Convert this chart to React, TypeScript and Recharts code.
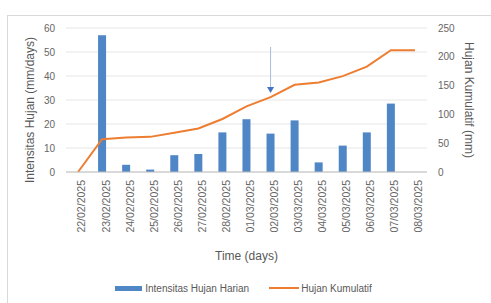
import React from 'react';
import {
  ComposedChart,
  Bar,
  Line,
  XAxis,
  YAxis,
  CartesianGrid,
  Legend,
  ReferenceLine,
  ReferenceDot,
} from 'recharts';

// tanggal pengamatan
const dates = [
  '22/02/2025', '23/02/2025', '24/02/2025', '25/02/2025', '26/02/2025',
  '27/02/2025', '28/02/2025', '01/03/2025', '02/03/2025', '03/03/2025',
  '04/03/2025', '05/03/2025', '06/03/2025', '07/03/2025', '08/03/2025',
];

// intensitas hujan harian (mm/days)
const dailyRain = [0, 57, 3, 1, 7, 7.5, 16.5, 22, 16, 21.5, 4, 11, 16.5, 28.5, 0];

// hujan kumulatif (mm)
const cumulativeRain = [0, 57, 60, 61, 68, 75.5, 92, 114, 130, 151.5, 155.5, 166.5, 183, 211.5, 211.5];

const leftTicks = [0, 10, 20, 30, 40, 50, 60];
const rightTicks = [0, 50, 100, 150, 200, 250];

const data = dates.map((d, i) => ({
  date: d,
  harian: dailyRain[i],
  kumulatif: cumulativeRain[i],
}));

const FONT = '"Liberation Sans", Arial, sans-serif';
const TICK = { fontSize: 10, fill: '#666', fontFamily: FONT };
const TITLE = { fontSize: 12, fill: '#595959', fontFamily: FONT };

const LegendContent = ({ payload }: any) => {
  // bar dulu, baru garis
  const items = [...(payload || [])].sort((a: any, b: any) =>
    a.type === 'rect' ? -1 : b.type === 'rect' ? 1 : 0
  );
  return (
    <div
      style={{
        display: 'flex',
        justifyContent: 'center',
        alignItems: 'center',
        height: 16,
        fontFamily: FONT,
        fontSize: 10,
        color: '#595959',
      }}
    >
      {items.map((p: any) => (
        <div key={p.value} style={{ display: 'flex', alignItems: 'center', margin: '0 10px' }}>
          {p.type === 'rect' ? (
            <span style={{ width: 27, height: 5, background: p.color, marginRight: 3 }} />
          ) : (
            <span style={{ width: 30, height: 2, background: p.color, marginRight: 2 }} />
          )}
          {p.value}
        </div>
      ))}
    </div>
  );
};

const Arrowhead = ({ cx, cy }: any) => (
  <path d={`M${cx - 3.5},${cy - 6} L${cx + 3.5},${cy - 6} L${cx},${cy} Z`} fill="#4472C4" />
);

const App = () => {
  return (
    <div style={{ position: 'absolute', left: 0, top: 0, width: 491, height: 303, background: '#fff' }}>
      <div
        style={{
          position: 'absolute',
          left: 7,
          top: 15,
          width: 490,
          height: 300,
          border: '1px solid #d9d9d9',
          boxSizing: 'border-box',
        }}
      />
      <div style={{ position: 'absolute', left: 0, top: 0 }}>
        <ComposedChart
          width={491}
          height={303}
          data={data}
          margin={{ top: 28, right: 24, bottom: 27, left: 20 }}
        >
          <CartesianGrid yAxisId="left" vertical={false} stroke="#e6e6e6" />
          <XAxis
            dataKey="date"
            interval={0}
            height={88}
            tickLine={false}
            axisLine={{ stroke: '#bfbfbf' }}
            tick={{ ...TICK, fontSize: 10.5, angle: -90, textAnchor: 'end', verticalAnchor: 'middle' } as any}
            label={{
              value: 'Time (days)',
              position: 'insideBottom',
              offset: 0,
              style: TITLE,
            }}
          />
          <YAxis
            yAxisId="left"
            width={46}
            domain={[0, 60]}
            ticks={leftTicks}
            tickLine={false}
            axisLine={false}
            tickMargin={5}
            tick={TICK}
            label={{
              value: 'Intensitas Hujan (mm/days)',
              angle: -90,
              position: 'center',
              dx: -13,
              dy: 10,
              style: TITLE,
            }}
          />
          <YAxis
            yAxisId="right"
            orientation="right"
            width={40}
            domain={[0, 250]}
            ticks={rightTicks}
            tickLine={false}
            axisLine={false}
            tickMargin={5}
            tick={TICK}
            label={{
              value: 'Hujan Kumulatif (mm)',
              angle: 90,
              position: 'center',
              dx: 22,
              style: TITLE,
            }}
          />
          <Bar
            yAxisId="left"
            dataKey="harian"
            name="Intensitas Hujan Harian"
            fill="#4F86C6"
            barSize={8}
            legendType="rect"
            isAnimationActive={false}
          />
          <Line
            yAxisId="right"
            type="linear"
            dataKey="kumulatif"
            name="Hujan Kumulatif"
            stroke="#ED7D31"
            strokeWidth={2}
            dot={false}
            legendType="plainline"
            isAnimationActive={false}
          />
          <ReferenceLine
            yAxisId="right"
            segment={[
              { x: '02/03/2025', y: 217 },
              { x: '02/03/2025', y: 142 },
            ]}
            stroke="#a9bde0"
            strokeWidth={1}
          />
          <ReferenceDot
            yAxisId="right"
            x="02/03/2025"
            y={137}
            r={4}
            shape={<Arrowhead />}
          />
          <Legend
            content={<LegendContent />}
            wrapperStyle={{ top: 280, bottom: 'auto', height: 16 }}
          />
        </ComposedChart>
      </div>
    </div>
  );
};

export default App;
